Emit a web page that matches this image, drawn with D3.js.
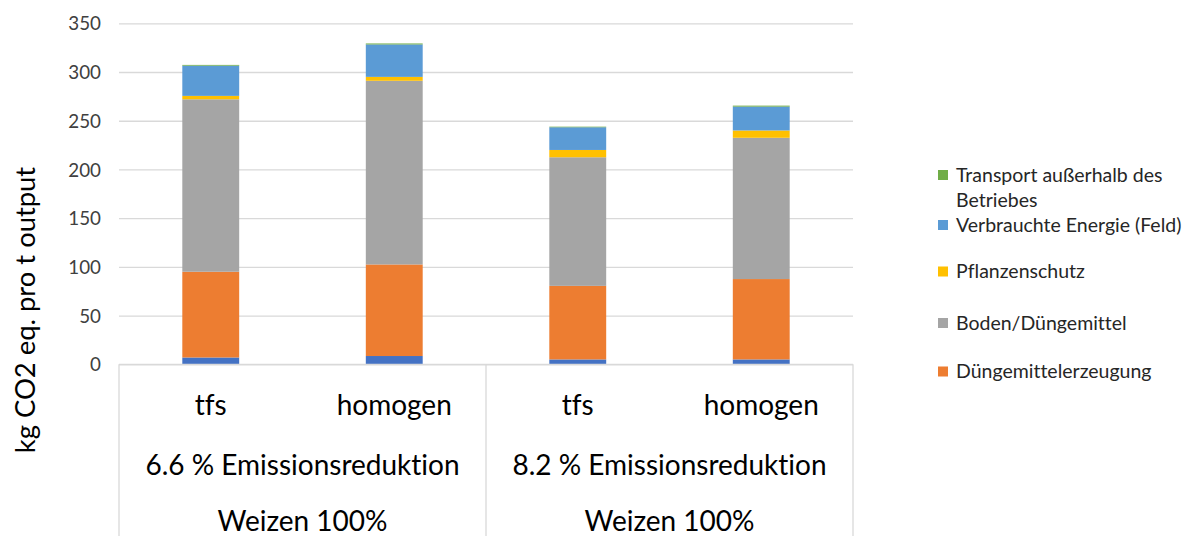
<!DOCTYPE html>
<html>
<head>
<meta charset="utf-8">
<script src="https://cdn.jsdelivr.net/npm/d3@7"></script>
<style>
  html, body { margin: 0; padding: 0; background: #fff; }
  svg { display: block; font-family: Lato, "Open Sans", sans-serif; font-variant-ligatures: none; font-feature-settings: "liga" 0, "clig" 0, "dlig" 0; }
</style>
</head>
<body>
<svg id="chart" width="1191" height="536"></svg>
<script>
// Categories: treatment within each crop/reduction group
const categories = ["tfs", "homogen", "tfs", "homogen"];
const groupLabels = ["6.6 % Emissionsreduktion", "8.2 % Emissionsreduktion"];
const cropLabels = ["Weizen 100%", "Weizen 100%"];

// Emission components, kg CO2 eq. per t output (stacked bottom to top)
const sonstiges        = [7.0, 8.5, 5.0, 5.0];
const duengerErzeugung = [88.0, 94.0, 75.5, 82.5];
const bodenDuenger     = [177.0, 188.5, 132.0, 145.0];
const pflanzenschutz   = [3.5, 4.0, 7.5, 7.5];
const energieFeld      = [31.0, 33.3, 23.3, 24.5];
const transport        = [0.8, 1.0, 0.6, 1.0];

const seriesNames  = ["Sonstiges", "Düngemittelerzeugung", "Boden/Düngemittel", "Pflanzenschutz", "Verbrauchte Energie (Feld)", "Transport außerhalb des Betriebes"];
const seriesValues = [sonstiges, duengerErzeugung, bodenDuenger, pflanzenschutz, energieFeld, transport];
const seriesColors = ["#4472C4", "#ED7D31", "#A5A5A5", "#FFC000", "#5B9BD5", "#70AD47"];

const yTicks = [0, 50, 100, 150, 200, 250, 300, 350];
const yTitle = "kg CO2 eq. pro t output";

const svg = d3.select("#chart");
const plot = { left: 119, right: 853, top: 23.3, bottom: 364.3 };

const keys = categories.map((c, i) => "c" + i);
const x = d3.scaleBand().domain(keys).range([plot.left, plot.right])
  .paddingInner(0.69).paddingOuter(0.345);
const y = d3.scaleLinear().domain([0, 350]).range([plot.bottom, plot.top]);

// Gridlines
svg.append("g")
  .attr("transform", `translate(${plot.left},0)`)
  .call(d3.axisLeft(y).tickValues(yTicks).tickSize(-(plot.right - plot.left)).tickFormat(""))
  .call(g => g.select(".domain").remove())
  .call(g => g.selectAll("line").attr("stroke", "#d9d9d9").attr("stroke-width", 1.3));

// Y tick labels
svg.append("g")
  .attr("transform", `translate(101,0)`)
  .call(d3.axisLeft(y).tickValues(yTicks).tickSize(0).tickPadding(0))
  .call(g => g.select(".domain").remove())
  .call(g => g.selectAll("text").attr("font-size", 18.8).attr("fill", "#404040")
    .attr("font-family", "Lato, sans-serif").attr("dy", "0.35em"));

// Stacked bars
const rows = keys.map((k, i) => {
  const r = { key: k };
  seriesNames.forEach((s, j) => r[s] = seriesValues[j][i]);
  return r;
});
const stack = d3.stack().keys(seriesNames)(rows);
svg.append("g").selectAll("g").data(stack).join("g")
  .attr("fill", (d, i) => seriesColors[i])
  .selectAll("rect").data(d => d).join("rect")
  .attr("x", d => x(d.data.key))
  .attr("width", x.bandwidth())
  .attr("y", d => y(d[1]))
  .attr("height", d => y(d[0]) - y(d[1]));

// Category axis box
const axisG = svg.append("g").attr("stroke", "#d9d9d9").attr("stroke-width", 1.3);
axisG.append("line").attr("x1", plot.left).attr("x2", plot.right)
  .attr("y1", plot.bottom).attr("y2", plot.bottom);
const groupEdges = [plot.left, (plot.left + plot.right) / 2, plot.right];
axisG.selectAll("line.v").data(groupEdges).join("line").attr("class", "v")
  .attr("x1", d => d).attr("x2", d => d)
  .attr("y1", plot.bottom).attr("y2", 536);

const labelG = svg.append("g").attr("fill", "#000").attr("font-size", 28)
  .attr("text-anchor", "middle").attr("font-family", "Lato, sans-serif");
labelG.selectAll("text.cat").data(categories).join("text").attr("class", "cat")
  .attr("x", (d, i) => x(keys[i]) + x.bandwidth() / 2)
  .attr("y", 405).attr("dy", "0.35em").text(d => d);
const groupCenters = [0, 1].map(i => (groupEdges[i] + groupEdges[i + 1]) / 2);
labelG.selectAll("text.grp").data(groupLabels).join("text").attr("class", "grp")
  .attr("x", (d, i) => groupCenters[i]).attr("y", 465).attr("dy", "0.35em").text(d => d);
labelG.selectAll("text.crop").data(cropLabels).join("text").attr("class", "crop")
  .attr("x", (d, i) => groupCenters[i]).attr("y", 521).attr("dy", "0.35em").text(d => d);

// Y axis title
svg.append("text")
  .attr("transform", "translate(25,310) rotate(-90)")
  .attr("text-anchor", "middle").attr("dy", "0.35em")
  .attr("font-size", 27.4).attr("fill", "#000").text(yTitle);

// Legend (top entry first)
const legendItems = [
  { idx: 5, lines: ["Transport außerhalb des", "Betriebes"], y: 175 },
  { idx: 4, lines: ["Verbrauchte Energie (Feld)"], y: 225 },
  { idx: 3, lines: ["Pflanzenschutz"], y: 271.5 },
  { idx: 2, lines: ["Boden/Düngemittel"], y: 323 },
  { idx: 1, lines: ["Düngemittelerzeugung"], y: 371.5 }
];
const leg = svg.append("g").attr("font-size", 19.5).attr("fill", "#262626");
const li = leg.selectAll("g").data(legendItems).join("g")
  .attr("transform", d => `translate(938,${d.y})`);
li.append("rect").attr("x", 0).attr("y", -5).attr("width", 10).attr("height", 10)
  .attr("fill", d => seriesColors[d.idx]);
li.append("text").attr("x", 18).attr("dy", "0.35em")
  .selectAll("tspan").data(d => d.lines).join("tspan")
  .attr("x", 18).attr("dy", (d, i) => i === 0 ? "0.35em" : "25px").text(d => d);
</script>
</body>
</html>
